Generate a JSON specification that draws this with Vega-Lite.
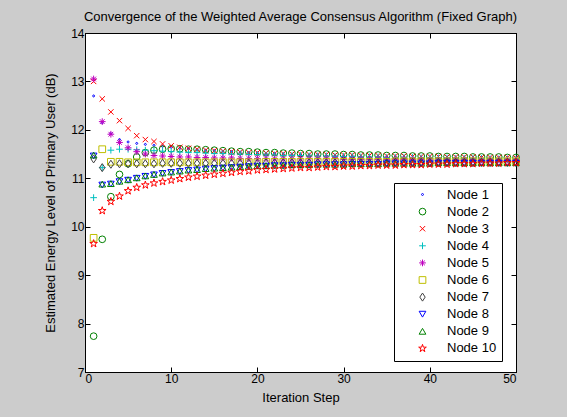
{
  "$schema": "https://vega.github.io/schema/vega-lite/v6.json",
  "width": 431,
  "height": 339,
  "autosize": {"type": "none"},
  "padding": {"left": 85, "top": 33, "right": 51, "bottom": 45},
  "background": "#cccccc",
  "config": {
    "view": {"stroke": "black", "strokeWidth": 1, "fill": "white"},
    "font": "Liberation Sans",
    "axis": {
      "domainColor": "black", "tickColor": "black", "labelColor": "black", "titleColor": "black",
      "labelFontSize": 12, "titleFontSize": 13, "titleFontWeight": "normal", "grid": false,
      "tickSize": -5, "labelPadding": 6, "domainWidth": 1, "tickWidth": 1
    },
    "legend": {
      "orient": "none", "legendX": 309, "legendY": 150,
      "fillColor": "white", "strokeColor": "black", "padding": 5,
      "labelFontSize": 13, "labelColor": "black", "labelFont": "Liberation Sans",
      "symbolSize": 45, "symbolStrokeWidth": 1, "rowPadding": 3.1,
      "symbolOffset": 17, "labelOffset": 18, "titlePadding": 0
    }
  },
  "title": {"text": "Convergence of the Weighted Average Consensus Algorithm (Fixed Graph)", "fontSize": 13, "fontWeight": "normal", "color": "black", "offset": 3, "anchor": "middle", "font": "Liberation Sans"},
  "data": {"values": [
    {"i":1,"Node 1":12.70,"Node 2":7.74,"Node 3":13.00,"Node 4":10.60,"Node 5":13.05,"Node 6":9.77,"Node 7":11.40,"Node 8":11.46,"Node 9":11.48,"Node 10":9.65},
    {"i":2,"Node 1":12.15,"Node 2":9.74,"Node 3":12.64,"Node 4":11.22,"Node 5":12.17,"Node 6":11.60,"Node 7":11.22,"Node 8":10.86,"Node 9":10.88,"Node 10":10.33},
    {"i":3,"Node 1":11.92,"Node 2":10.62,"Node 3":12.37,"Node 4":11.58,"Node 5":11.91,"Node 6":11.34,"Node 7":11.29,"Node 8":10.88,"Node 9":10.89,"Node 10":10.52},
    {"i":4,"Node 1":11.80,"Node 2":11.08,"Node 3":12.19,"Node 4":11.60,"Node 5":11.74,"Node 6":11.34,"Node 7":11.30,"Node 8":10.93,"Node 9":10.94,"Node 10":10.63},
    {"i":5,"Node 1":11.75,"Node 2":11.30,"Node 3":12.03,"Node 4":11.60,"Node 5":11.63,"Node 6":11.33,"Node 7":11.30,"Node 8":10.96,"Node 9":10.97,"Node 10":10.74},
    {"i":6,"Node 1":11.72,"Node 2":11.44,"Node 3":11.88,"Node 4":11.59,"Node 5":11.55,"Node 6":11.33,"Node 7":11.30,"Node 8":11.00,"Node 9":11.01,"Node 10":10.81},
    {"i":7,"Node 1":11.70,"Node 2":11.53,"Node 3":11.80,"Node 4":11.58,"Node 5":11.50,"Node 6":11.33,"Node 7":11.30,"Node 8":11.04,"Node 9":11.05,"Node 10":10.86},
    {"i":8,"Node 1":11.68,"Node 2":11.58,"Node 3":11.76,"Node 4":11.57,"Node 5":11.47,"Node 6":11.33,"Node 7":11.30,"Node 8":11.07,"Node 9":11.08,"Node 10":10.90},
    {"i":9,"Node 1":11.66,"Node 2":11.60,"Node 3":11.71,"Node 4":11.56,"Node 5":11.46,"Node 6":11.33,"Node 7":11.31,"Node 8":11.10,"Node 9":11.11,"Node 10":10.93},
    {"i":10,"Node 1":11.64,"Node 2":11.61,"Node 3":11.67,"Node 4":11.55,"Node 5":11.45,"Node 6":11.33,"Node 7":11.31,"Node 8":11.12,"Node 9":11.13,"Node 10":10.96},
    {"i":11,"Node 1":11.62,"Node 2":11.61,"Node 3":11.64,"Node 4":11.54,"Node 5":11.44,"Node 6":11.33,"Node 7":11.31,"Node 8":11.14,"Node 9":11.15,"Node 10":10.99},
    {"i":12,"Node 1":11.61,"Node 2":11.60,"Node 3":11.62,"Node 4":11.53,"Node 5":11.44,"Node 6":11.33,"Node 7":11.31,"Node 8":11.16,"Node 9":11.17,"Node 10":11.02},
    {"i":13,"Node 1":11.59,"Node 2":11.60,"Node 3":11.60,"Node 4":11.53,"Node 5":11.43,"Node 6":11.33,"Node 7":11.31,"Node 8":11.17,"Node 9":11.18,"Node 10":11.04},
    {"i":14,"Node 1":11.58,"Node 2":11.59,"Node 3":11.58,"Node 4":11.52,"Node 5":11.43,"Node 6":11.33,"Node 7":11.31,"Node 8":11.19,"Node 9":11.20,"Node 10":11.06},
    {"i":15,"Node 1":11.57,"Node 2":11.58,"Node 3":11.57,"Node 4":11.51,"Node 5":11.42,"Node 6":11.33,"Node 7":11.31,"Node 8":11.20,"Node 9":11.21,"Node 10":11.08},
    {"i":16,"Node 1":11.56,"Node 2":11.57,"Node 3":11.56,"Node 4":11.51,"Node 5":11.42,"Node 6":11.33,"Node 7":11.31,"Node 8":11.21,"Node 9":11.22,"Node 10":11.10},
    {"i":17,"Node 1":11.55,"Node 2":11.56,"Node 3":11.55,"Node 4":11.50,"Node 5":11.42,"Node 6":11.33,"Node 7":11.31,"Node 8":11.22,"Node 9":11.23,"Node 10":11.12},
    {"i":18,"Node 1":11.54,"Node 2":11.55,"Node 3":11.54,"Node 4":11.50,"Node 5":11.41,"Node 6":11.33,"Node 7":11.31,"Node 8":11.23,"Node 9":11.24,"Node 10":11.14},
    {"i":19,"Node 1":11.53,"Node 2":11.55,"Node 3":11.53,"Node 4":11.49,"Node 5":11.41,"Node 6":11.33,"Node 7":11.31,"Node 8":11.24,"Node 9":11.25,"Node 10":11.15},
    {"i":20,"Node 1":11.52,"Node 2":11.54,"Node 3":11.53,"Node 4":11.49,"Node 5":11.41,"Node 6":11.33,"Node 7":11.31,"Node 8":11.25,"Node 9":11.26,"Node 10":11.17},
    {"i":21,"Node 1":11.51,"Node 2":11.53,"Node 3":11.52,"Node 4":11.48,"Node 5":11.41,"Node 6":11.34,"Node 7":11.32,"Node 8":11.25,"Node 9":11.26,"Node 10":11.18},
    {"i":22,"Node 1":11.51,"Node 2":11.53,"Node 3":11.51,"Node 4":11.48,"Node 5":11.40,"Node 6":11.34,"Node 7":11.32,"Node 8":11.26,"Node 9":11.27,"Node 10":11.19},
    {"i":23,"Node 1":11.50,"Node 2":11.52,"Node 3":11.51,"Node 4":11.47,"Node 5":11.40,"Node 6":11.34,"Node 7":11.32,"Node 8":11.26,"Node 9":11.27,"Node 10":11.20},
    {"i":24,"Node 1":11.49,"Node 2":11.52,"Node 3":11.50,"Node 4":11.47,"Node 5":11.40,"Node 6":11.34,"Node 7":11.32,"Node 8":11.27,"Node 9":11.28,"Node 10":11.21},
    {"i":25,"Node 1":11.49,"Node 2":11.51,"Node 3":11.50,"Node 4":11.47,"Node 5":11.40,"Node 6":11.34,"Node 7":11.32,"Node 8":11.27,"Node 9":11.28,"Node 10":11.22},
    {"i":26,"Node 1":11.48,"Node 2":11.51,"Node 3":11.49,"Node 4":11.46,"Node 5":11.40,"Node 6":11.34,"Node 7":11.32,"Node 8":11.27,"Node 9":11.28,"Node 10":11.22},
    {"i":27,"Node 1":11.48,"Node 2":11.50,"Node 3":11.49,"Node 4":11.46,"Node 5":11.40,"Node 6":11.34,"Node 7":11.32,"Node 8":11.28,"Node 9":11.29,"Node 10":11.23},
    {"i":28,"Node 1":11.47,"Node 2":11.50,"Node 3":11.49,"Node 4":11.46,"Node 5":11.40,"Node 6":11.34,"Node 7":11.32,"Node 8":11.28,"Node 9":11.29,"Node 10":11.24},
    {"i":29,"Node 1":11.47,"Node 2":11.50,"Node 3":11.48,"Node 4":11.45,"Node 5":11.40,"Node 6":11.34,"Node 7":11.32,"Node 8":11.28,"Node 9":11.29,"Node 10":11.24},
    {"i":30,"Node 1":11.46,"Node 2":11.49,"Node 3":11.48,"Node 4":11.45,"Node 5":11.39,"Node 6":11.34,"Node 7":11.32,"Node 8":11.28,"Node 9":11.29,"Node 10":11.25},
    {"i":31,"Node 1":11.46,"Node 2":11.49,"Node 3":11.48,"Node 4":11.45,"Node 5":11.39,"Node 6":11.34,"Node 7":11.32,"Node 8":11.29,"Node 9":11.30,"Node 10":11.25},
    {"i":32,"Node 1":11.45,"Node 2":11.48,"Node 3":11.47,"Node 4":11.44,"Node 5":11.39,"Node 6":11.34,"Node 7":11.32,"Node 8":11.29,"Node 9":11.30,"Node 10":11.26},
    {"i":33,"Node 1":11.45,"Node 2":11.48,"Node 3":11.47,"Node 4":11.44,"Node 5":11.39,"Node 6":11.34,"Node 7":11.32,"Node 8":11.29,"Node 9":11.30,"Node 10":11.26},
    {"i":34,"Node 1":11.45,"Node 2":11.48,"Node 3":11.47,"Node 4":11.44,"Node 5":11.39,"Node 6":11.34,"Node 7":11.32,"Node 8":11.29,"Node 9":11.30,"Node 10":11.27},
    {"i":35,"Node 1":11.44,"Node 2":11.47,"Node 3":11.46,"Node 4":11.43,"Node 5":11.39,"Node 6":11.34,"Node 7":11.32,"Node 8":11.30,"Node 9":11.31,"Node 10":11.27},
    {"i":36,"Node 1":11.44,"Node 2":11.47,"Node 3":11.46,"Node 4":11.43,"Node 5":11.39,"Node 6":11.35,"Node 7":11.33,"Node 8":11.30,"Node 9":11.31,"Node 10":11.27},
    {"i":37,"Node 1":11.44,"Node 2":11.47,"Node 3":11.46,"Node 4":11.43,"Node 5":11.39,"Node 6":11.35,"Node 7":11.33,"Node 8":11.30,"Node 9":11.31,"Node 10":11.28},
    {"i":38,"Node 1":11.43,"Node 2":11.46,"Node 3":11.45,"Node 4":11.43,"Node 5":11.39,"Node 6":11.35,"Node 7":11.33,"Node 8":11.30,"Node 9":11.31,"Node 10":11.28},
    {"i":39,"Node 1":11.43,"Node 2":11.46,"Node 3":11.45,"Node 4":11.42,"Node 5":11.39,"Node 6":11.35,"Node 7":11.33,"Node 8":11.30,"Node 9":11.31,"Node 10":11.28},
    {"i":40,"Node 1":11.43,"Node 2":11.46,"Node 3":11.45,"Node 4":11.42,"Node 5":11.38,"Node 6":11.35,"Node 7":11.33,"Node 8":11.30,"Node 9":11.31,"Node 10":11.29},
    {"i":41,"Node 1":11.42,"Node 2":11.45,"Node 3":11.45,"Node 4":11.42,"Node 5":11.38,"Node 6":11.35,"Node 7":11.33,"Node 8":11.31,"Node 9":11.32,"Node 10":11.29},
    {"i":42,"Node 1":11.42,"Node 2":11.45,"Node 3":11.44,"Node 4":11.42,"Node 5":11.38,"Node 6":11.35,"Node 7":11.33,"Node 8":11.31,"Node 9":11.32,"Node 10":11.29},
    {"i":43,"Node 1":11.42,"Node 2":11.45,"Node 3":11.44,"Node 4":11.41,"Node 5":11.38,"Node 6":11.35,"Node 7":11.33,"Node 8":11.31,"Node 9":11.32,"Node 10":11.30},
    {"i":44,"Node 1":11.42,"Node 2":11.45,"Node 3":11.44,"Node 4":11.41,"Node 5":11.38,"Node 6":11.35,"Node 7":11.33,"Node 8":11.31,"Node 9":11.32,"Node 10":11.30},
    {"i":45,"Node 1":11.41,"Node 2":11.44,"Node 3":11.44,"Node 4":11.41,"Node 5":11.38,"Node 6":11.35,"Node 7":11.33,"Node 8":11.31,"Node 9":11.32,"Node 10":11.30},
    {"i":46,"Node 1":11.41,"Node 2":11.44,"Node 3":11.43,"Node 4":11.41,"Node 5":11.38,"Node 6":11.35,"Node 7":11.33,"Node 8":11.31,"Node 9":11.32,"Node 10":11.31},
    {"i":47,"Node 1":11.41,"Node 2":11.44,"Node 3":11.43,"Node 4":11.40,"Node 5":11.38,"Node 6":11.35,"Node 7":11.33,"Node 8":11.31,"Node 9":11.32,"Node 10":11.31},
    {"i":48,"Node 1":11.41,"Node 2":11.44,"Node 3":11.43,"Node 4":11.40,"Node 5":11.38,"Node 6":11.35,"Node 7":11.33,"Node 8":11.31,"Node 9":11.32,"Node 10":11.31},
    {"i":49,"Node 1":11.40,"Node 2":11.43,"Node 3":11.43,"Node 4":11.40,"Node 5":11.38,"Node 6":11.35,"Node 7":11.33,"Node 8":11.31,"Node 9":11.32,"Node 10":11.32},
    {"i":50,"Node 1":11.40,"Node 2":11.43,"Node 3":11.42,"Node 4":11.40,"Node 5":11.38,"Node 6":11.35,"Node 7":11.33,"Node 8":11.31,"Node 9":11.32,"Node 10":11.32}
  ]},
  "transform": [
    {"fold": ["Node 1","Node 2","Node 3","Node 4","Node 5","Node 6","Node 7","Node 8","Node 9","Node 10"], "as": ["node","value"]}
  ],
  "layer": [
    {
      "mark": {"type": "point", "filled": false, "strokeWidth": 1, "size": 45, "opacity": 1},
      "encoding": {
        "x": {"field": "i", "type": "quantitative", "scale": {"domain": [0, 50], "nice": false},
              "axis": {"orient": "bottom", "values": [0,10,20,30,40,50], "title": "Iteration Step", "titlePadding": 7}},
        "y": {"field": "value", "type": "quantitative", "scale": {"domain": [7, 14], "nice": false, "zero": false},
              "axis": {"orient": "left", "values": [7,8,9,10,11,12,13,14], "title": "Estimated Energy Level of Primary User (dB)", "titlePadding": 13}},
        "color": {"field": "node", "type": "nominal",
                  "scale": {"domain": ["Node 1","Node 2","Node 3","Node 4","Node 5","Node 6","Node 7","Node 8","Node 9","Node 10"],
                            "range": ["#0000ff","#008000","#ff0000","#00bfbf","#bf00bf","#bfbf00","#404040","#0000ff","#008000","#ff0000"]},
                  "legend": {"title": null}},
        "shape": {"field": "node", "type": "nominal",
                  "scale": {"domain": ["Node 1","Node 2","Node 3","Node 4","Node 5","Node 6","Node 7","Node 8","Node 9","Node 10"],
                            "range": [
                              "M-0.3,0A0.3,0.3 0 1,1 0.3,0A0.3,0.3 0 1,1 -0.3,0Z",
                              "circle",
                              "M-0.8,-0.8L0.8,0.8M-0.8,0.8L0.8,-0.8",
                              "M-1,0L1,0M0,-1L0,1",
                              "M-1,0L1,0M0,-1L0,1M-0.7,-0.7L0.7,0.7M-0.7,0.7L0.7,-0.7",
                              "square",
                              "M0,-1.2L0.8,0L0,1.2L-0.8,0Z",
                              "triangle-down",
                              "triangle-up",
                              "M0,-1.2L0.27,-0.37L1.14,-0.37L0.44,0.14L0.71,0.97L0,0.46L-0.71,0.97L-0.44,0.14L-1.14,-0.37L-0.27,-0.37Z"
                            ]},
                  "legend": {"title": null}}
      }
    },
    {
      "mark": {"type": "point", "opacity": 0},
      "encoding": {
        "x": {"field": "i", "type": "quantitative", "axis": {"orient": "top", "values": [0,10,20,30,40,50], "labels": false, "title": null}},
        "y": {"field": "value", "type": "quantitative", "axis": {"orient": "right", "values": [7,8,9,10,11,12,13,14], "labels": false, "title": null}}
      }
    }
  ],
  "resolve": {"axis": {"x": "independent", "y": "independent"}}
}
